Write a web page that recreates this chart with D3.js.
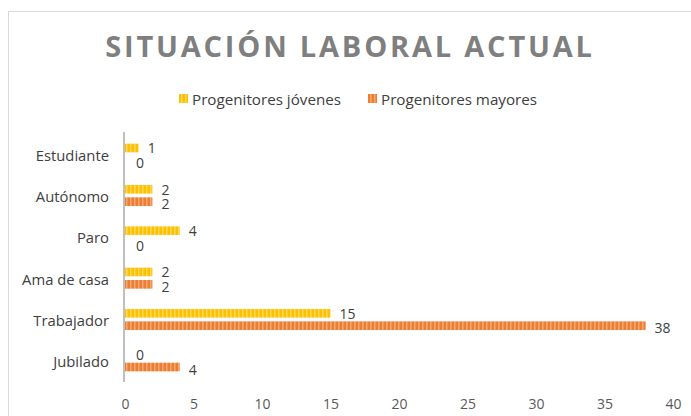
<!DOCTYPE html>
<html>
<head>
<meta charset="utf-8">
<script src="https://cdn.jsdelivr.net/npm/d3@7"></script>
<style>
  body { margin: 0; background: #fff; }
  text { font-family: "Open Sans", sans-serif; }
</style>
</head>
<body>
<script>
// data
let categories = ["Estudiante", "Autónomo", "Paro", "Ama de casa", "Trabajador", "Jubilado"];
let series = ["Progenitores jóvenes", "Progenitores mayores"];
let jovenes = [1, 2, 4, 2, 15, 0];
let mayores = [0, 2, 0, 2, 38, 4];
let ticks = [0, 5, 10, 15, 20, 25, 30, 35, 40];
let colours = ["#FFC000", "#ED7D31"];
let lighter = ["#FFD95C", "#F4A874"];

let width = 691;
let height = 416;

let svg = d3.select("body")
  .append("svg")
  .attr("width", width)
  .attr("height", height);

// striped fills, like the excel pattern
let defs = svg.append("defs");
series.forEach((s, i) => {
  let p = defs.append("pattern")
    .attr("id", "stripe" + i)
    .attr("patternUnits", "userSpaceOnUse")
    .attr("width", 4)
    .attr("height", 4);
  p.append("rect").attr("width", 4).attr("height", 4).attr("fill", colours[i]);
  p.append("rect").attr("x", 2).attr("width", 1.5).attr("height", 4).attr("fill", lighter[i]);
});

// chart border (cut off on right / bottom)
svg.append("rect")
  .attr("x", 8.5).attr("y", 11.5)
  .attr("width", 700).attr("height", 420)
  .attr("fill", "none")
  .attr("stroke", "#D9D9D9");

// title
svg.append("text")
  .attr("x", 350)
  .attr("y", 57)
  .attr("text-anchor", "middle")
  .attr("font-size", 29)
  .attr("font-weight", "bold")
  .attr("letter-spacing", 2.8)
  .attr("fill", "#7F7F7F")
  .text("SITUACIÓN LABORAL ACTUAL");

// legend
let legendX = [179, 368];
let legend = svg.append("g")
  .selectAll("g")
  .data(series)
  .join("g")
  .attr("transform", (d, i) => `translate(${legendX[i]},94)`);
legend.append("rect")
  .attr("width", 9).attr("height", 9)
  .attr("fill", (d, i) => `url(#stripe${i})`);
legend.append("text")
  .attr("x", 13).attr("y", 4.5)
  .attr("dominant-baseline", "central")
  .attr("font-size", 15.2)
  .attr("fill", "#404040")
  .text(d => d);

// scales
let x = d3.scaleLinear().domain([0, 40]).range([125, 673]);
let y = d3.scaleBand().domain(categories).range([134, 382]);
let sub = d3.scaleBand().domain(series).range([-11, 10]).paddingInner(0.3);

let rows = categories.map((c, i) => ({
  cat: c,
  values: [jovenes[i], mayores[i]]
}));

// x axis labels
svg.append("g")
  .attr("transform", "translate(0,403)")
  .call(d3.axisBottom(x).tickValues(ticks).tickSize(0).tickPadding(0))
  .call(g => g.select(".domain").remove())
  .call(g => g.selectAll("text")
    .attr("dy", null)
    .attr("dominant-baseline", "central")
    .attr("font-family", "Open Sans")
    .attr("font-size", 14)
    .attr("fill", "#595959"));

// category labels
svg.append("g")
  .selectAll("text")
  .data(categories)
  .join("text")
  .attr("x", 109)
  .attr("y", d => y(d) + y.bandwidth() / 2)
  .attr("text-anchor", "end")
  .attr("dominant-baseline", "central")
  .attr("font-size", 14.8)
  .attr("fill", "#404040")
  .text(d => d);

// bars and value labels
let groups = svg.append("g")
  .selectAll("g")
  .data(rows)
  .join("g")
  .attr("transform", d => `translate(0,${y(d.cat) + y.bandwidth() / 2})`);

groups.selectAll("rect")
  .data(d => d.values.map((v, i) => ({ s: series[i], i: i, v: v })))
  .join("rect")
  .attr("x", x(0))
  .attr("y", d => sub(d.s))
  .attr("width", d => x(d.v) - x(0))
  .attr("height", sub.bandwidth())
  .attr("fill", d => `url(#stripe${d.i})`);

groups.selectAll("text")
  .data(d => d.values.map((v, i) => ({ s: series[i], i: i, v: v })))
  .join("text")
  .attr("x", d => x(d.v) + (d.v === 0 ? 11 : 9))
  .attr("y", d => sub(d.s) + sub.bandwidth() / 2 + (d.i === 0 ? 0 : 2))
  .attr("dominant-baseline", "central")
  .attr("font-size", 14)
  .attr("fill", "#404040")
  .text(d => d.v);

// vertical axis line
svg.append("line")
  .attr("x1", x(0) - 1).attr("x2", x(0) - 1)
  .attr("y1", y.range()[0] - 2).attr("y2", y.range()[1])
  .attr("stroke", "#BFBFBF")
  .attr("stroke-width", 2);
</script>
</body>
</html>
